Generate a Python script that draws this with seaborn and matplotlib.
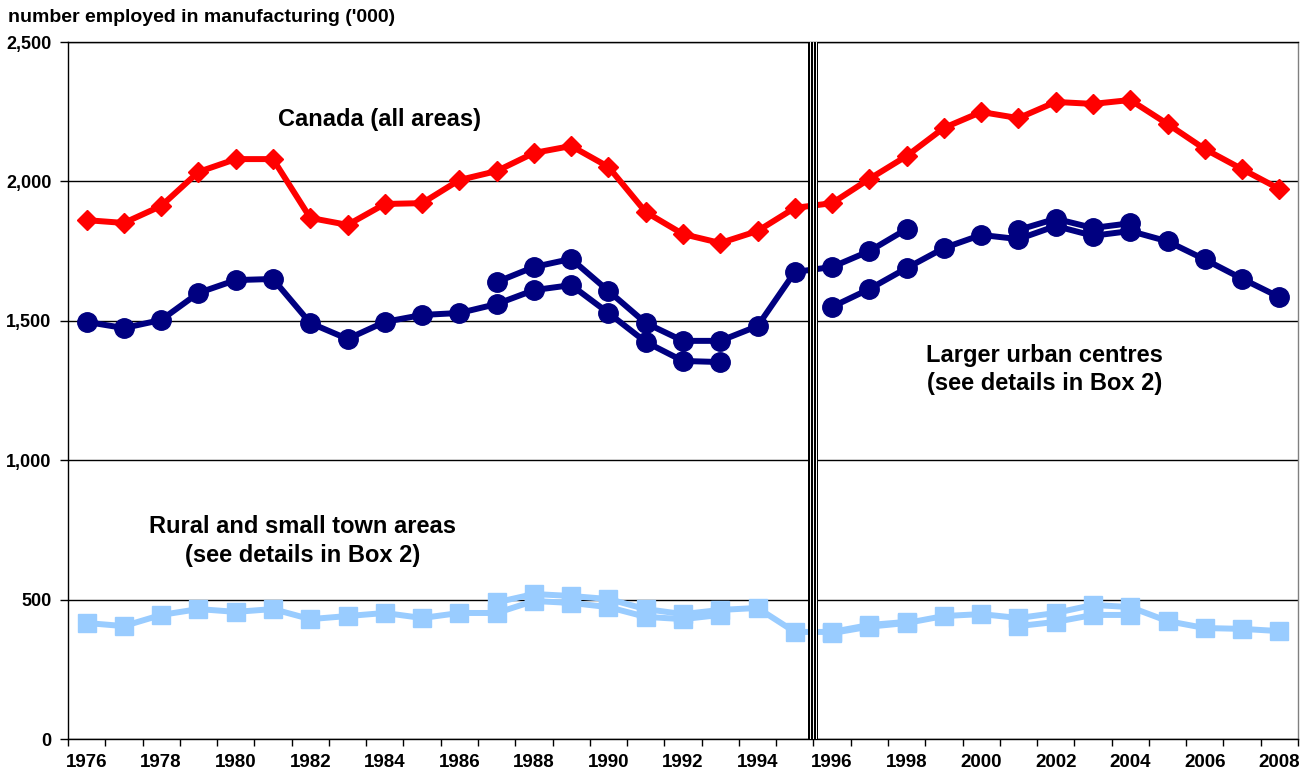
import pandas as pd
import seaborn as sns
import matplotlib.pyplot as plt
from matplotlib.ticker import FuncFormatter, MultipleLocator

# values ('000 employed in manufacturing)
years = list(range(1976, 2009))
canada = [1861, 1851, 1912, 2034, 2080, 2080, 1869, 1844, 1919, 1922, 2005,
          2037, 2102, 2127, 2052, 1890, 1811, 1779, 1822, 1905, 1922, 2009,
          2091, 2192, 2249, 2227, 2285, 2278, 2292, 2206, 2116, 2044, 1973]

# larger urban centres, several overlapping definitions
urban_1_years = list(range(1976, 1994))
urban_1 = [1496, 1474, 1503, 1600, 1646, 1650, 1492, 1435, 1496, 1521, 1528,
           1560, 1610, 1628, 1528, 1424, 1356, 1352]
urban_2_years = list(range(1987, 1999))
urban_2 = [1639, 1693, 1722, 1607, 1492, 1428, 1428, 1481, 1675, 1693, 1750, 1829]
urban_3_years = list(range(1996, 2009))
urban_3 = [1550, 1614, 1689, 1761, 1808, 1793, 1840, 1805, 1822, 1785, 1720,
           1651, 1585]
urban_4_years = list(range(2001, 2005))
urban_4 = [1826, 1866, 1833, 1850]

# rural and small town areas
rural_1_years = list(range(1976, 1994))
rural_1 = [416, 405, 445, 466, 456, 466, 430, 441, 452, 434, 452,
           452, 495, 488, 473, 438, 430, 445]
rural_2_years = list(range(1987, 1999))
rural_2 = [490, 520, 513, 502, 466, 448, 463, 470, 384, 384, 409, 420]
rural_3_years = list(range(1996, 2009))
rural_3 = [380, 403, 416, 441, 448, 434, 452, 481, 473, 423, 398, 395, 387]
rural_4_years = list(range(2001, 2005))
rural_4 = [405, 420, 445, 445]

sns.set_style("white")
plt.rcParams['font.family'] = ['Liberation Sans', 'DejaVu Sans']
plt.rcParams['font.weight'] = 'bold'
plt.rcParams['text.color'] = 'black'
plt.rcParams['xtick.labelcolor'] = 'black'
plt.rcParams['ytick.labelcolor'] = 'black'

fig, ax = plt.subplots(figsize=(13.07, 7.77), dpi=100)
fig.subplots_adjust(left=68/1307, right=1298/1307, top=1-42/777, bottom=1-739/777)

RED = '#FF0000'
NAVY = '#000080'
LIGHT = '#99CCFF'


def draw(xs, ys, color, marker, ms):
    df = pd.DataFrame({'year': xs, 'value': ys})
    sns.lineplot(data=df, x='year', y='value', ax=ax, color=color, marker=marker,
                 markersize=ms, linewidth=4.3, markeredgecolor=color,
                 markeredgewidth=1, zorder=3)


for xs, ys in [(rural_1_years, rural_1), (rural_2_years, rural_2),
               (rural_3_years, rural_3), (rural_4_years, rural_4)]:
    draw(xs, ys, LIGHT, 's', 13.5)

for xs, ys in [(urban_1_years, urban_1), (urban_2_years, urban_2),
               (urban_3_years, urban_3), (urban_4_years, urban_4)]:
    draw(xs, ys, NAVY, 'o', 14)

draw(years, canada, RED, 'D', 10.5)

# break between 1995 and 1996
ax.axvline(1995.5, color='black', lw=7.2, zorder=5)
ax.axvline(1995.5, color='white', lw=5.0, zorder=6)
ax.axvline(1995.5, color='black', lw=3.6, zorder=7)
ax.axvline(1995.5, color='white', lw=0.7, zorder=8)

ax.set_xlim(1975.5, 2008.5)
ax.set_ylim(0, 2500)
ax.set_xticks(years[::2])
ax.xaxis.set_minor_locator(MultipleLocator(1, offset=0.5))
ax.tick_params(axis='x', which='major', length=0, pad=11, labelsize=13.5)
ax.tick_params(axis='x', which='minor', length=5, width=1, color='black',
               direction='out', bottom=True)
ax.set_yticks(range(0, 2501, 500))
ax.yaxis.set_major_formatter(FuncFormatter(lambda v, p: f'{int(v):,}'))
ax.tick_params(axis='y', length=6, width=1, color='black', direction='out',
               left=True, labelsize=13, pad=6)
for lab in ax.get_xticklabels() + ax.get_yticklabels():
    lab.set_fontweight('bold')

ax.yaxis.grid(True, color='black', lw=1)
ax.xaxis.grid(False)
for s in ax.spines.values():
    s.set_visible(True)
    s.set_color('black')
    s.set_linewidth(1)
ax.spines['right'].set_color('#808080')

ax.set_xlabel('')
ax.set_ylabel('')

fig.text(8/1307, 1-17/777, "number employed in manufacturing ('000)",
         fontsize=14, fontweight='bold', ha='left', va='center')

ax.text(1983.85, 2221, 'Canada (all areas)', fontsize=17, fontweight='bold',
        ha='center', va='center')
ax.text(2001.7, 1325, 'Larger urban centres\n(see details in Box 2)',
        fontsize=17, fontweight='bold', ha='center', va='center', linespacing=1.3)
ax.text(1981.8, 710, 'Rural and small town areas\n(see details in Box 2)',
        fontsize=17, fontweight='bold', ha='center', va='center', linespacing=1.3)

fig.savefig('out.png', dpi=100)
